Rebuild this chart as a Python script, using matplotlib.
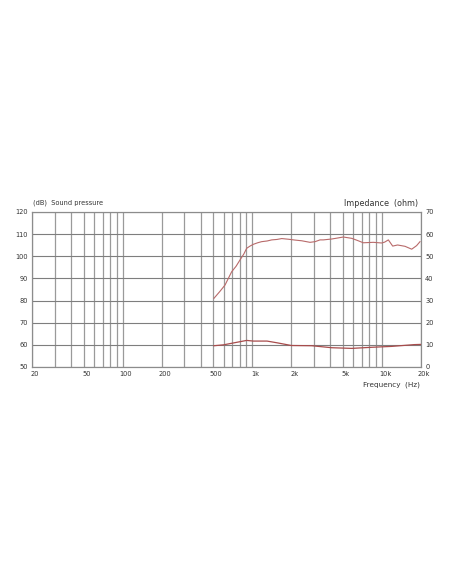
import matplotlib.pyplot as plt
import matplotlib.transforms as mtransforms
import numpy as np

# sound pressure curve (Hz, dB)
spl_freq = [506, 560, 616, 693, 750, 803, 860, 905, 960, 1019, 1100, 1181, 1300, 1412, 1550, 1687, 1897,
            2150, 2405, 2786, 3048, 3330, 3533, 4095, 4500, 5035, 5850, 6500, 7180, 8580, 9960, 10500,
            11200, 12100, 13200, 15060, 16960, 18500, 19650]
spl_db = [81, 84, 87, 93, 95.5, 98.3, 101, 103.6, 104.6, 105.4, 106.1, 106.6, 106.9, 107.4, 107.6, 108, 107.7,
          107.3, 107, 106.3, 106.6, 107.4, 107.4, 107.8, 108.2, 108.7, 108.1, 107.1, 106.1, 106.3, 106, 106.4,
          107.4, 104.6, 105.1, 104.5, 103.2, 104.8, 106.6]

# impedance curve (Hz, ohm)
imp_freq = [506, 600, 693, 800, 905, 1019, 1300, 1560, 2000, 2870, 4100, 5850, 8350, 11900, 17700, 20000]
imp_ohm = [9.6, 10.0, 10.7, 11.4, 12.0, 11.7, 11.7, 10.9, 9.7, 9.6, 8.7, 8.4, 8.9, 9.3, 10.1, 10.2]

xticks = [20, 50, 100, 200, 500, 1000, 2000, 5000, 10000, 20000]
xlabels = ['20', '50', '100', '200', '500', '1k', '2k', '5k', '10k', '20k']
grid_freqs = [20, 30, 40, 50, 60, 70, 80, 90, 100, 200, 300, 400, 500, 600, 700, 800, 900, 1000,
              2000, 3000, 4000, 5000, 6000, 7000, 8000, 9000, 10000, 20000]

fig = plt.figure(figsize=(4.52, 5.84), dpi=100)
ax = fig.add_axes([0.0708, 0.3716, 0.8606, 0.2654])
ax.set_xscale('log')
ax.set_xlim(20, 20000)
ax.set_ylim(50, 120)

for f in grid_freqs:
    ax.axvline(f, color='#9a9a9a', lw=0.9, zorder=1)
for y in range(50, 121, 10):
    ax.axhline(y, color='#7e7e7e', lw=0.8, zorder=1)

ax.plot(spl_freq, spl_db, color='#b86a6a', lw=0.8, zorder=3)
# impedance mapped onto dB axis: ohm + 50
ax.plot(imp_freq, np.array(imp_ohm) + 50, color='#a84c4c', lw=0.9, zorder=3)

ax.set_xticks(xticks)
ax.set_xticklabels(xlabels)
ax.minorticks_off()
ax.set_yticks(range(50, 121, 10))
ax.tick_params(length=0, labelsize=4.8, colors='#333333', pad=3)

# labels sit a little right of their gridlines in the original
shift = mtransforms.ScaledTranslation(3 / 100, 0, fig.dpi_scale_trans)
for lab in ax.get_xticklabels():
    lab.set_transform(lab.get_transform() + shift)

ax2 = ax.twinx()
ax2.set_ylim(0, 70)
ax2.set_yticks(range(0, 71, 10))
ax2.tick_params(length=0, labelsize=4.8, colors='#333333', pad=3)

for a in (ax, ax2):
    for s in a.spines.values():
        s.set_color('#8c8c8c')
        s.set_linewidth(0.8)

fig.text(0.073, 0.648, '(dB)  Sound pressure', fontsize=4.8, color='#333333', ha='left', va='bottom')
fig.text(0.925, 0.643, 'Impedance  (ohm)', fontsize=5.8, color='#333333', ha='right', va='bottom')
fig.text(0.93, 0.346, 'Frequency  (Hz)', fontsize=5.2, color='#333333', ha='right', va='top')

fig.savefig('out.png', dpi=100, facecolor='white')
